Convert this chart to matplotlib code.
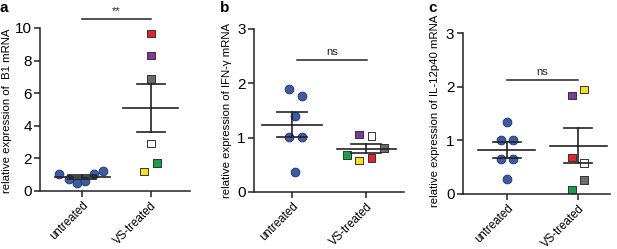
import numpy as np
import matplotlib.pyplot as plt

plt.rcParams['font.family'] = ['Liberation Sans', 'DejaVu Sans']

groups = ['untreated', 'VS-treated']
sq_colors = ['#e8202a', '#7d3c98', '#6b6b6b', '#ffffff', '#17a04a', '#f7e21a']  # red, purple, grey, white, green, yellow

# panel a: B1
a_untr = [1.05, 0.74, 0.47, 0.61, 1.05, 1.23]
a_untr_dx = [-0.34, -0.19, -0.07, 0.05, 0.18, 0.31]
a_vs = [9.65, 8.3, 6.85, 2.9, 1.7, 1.2]
a_vs_dx = [0, 0, 0, 0, 0.09, -0.1]

# panel b: IFN-gamma
b_untr = [1.89, 1.76, 1.40, 1.01, 1.01, 0.37]
b_untr_dx = [-0.04, 0.13, 0.04, -0.04, 0.13, 0.04]
b_vs = [0.63, 1.06, 0.81, 1.03, 0.68, 0.58]
b_vs_dx = [0.07, -0.1, 0.24, 0.07, -0.26, -0.1]

# panel c: IL-12p40
c_untr = [1.34, 1.01, 1.01, 0.66, 0.66, 0.28]
c_untr_dx = [0, -0.09, 0.08, -0.09, 0.08, 0]
c_vs = [0.68, 1.84, 0.26, 0.58, 0.08, 1.95]
c_vs_dx = [-0.09, -0.09, 0.08, 0.08, -0.09, 0.08]

panels = [
    dict(letter='a', ylabel='relative expression of  B1 mRNA', untr=a_untr, udx=a_untr_dx,
         vs=a_vs, vdx=a_vs_dx, ylim=10, yticks=[0, 2, 4, 6, 8, 10], sig='**',
         sig_y=10.57, sig_x=(0, 1), rect=[0.065, 0.233, 0.243, 0.655], xlim=(-0.61, 1.57),
         lx=7, letter_x=0),
    dict(letter='b', ylabel='relative expression of IFN-γ mRNA', untr=b_untr, udx=b_untr_dx,
         vs=b_vs, vdx=b_vs_dx, ylim=3, yticks=[0, 1, 2, 3], sig='ns',
         sig_y=2.43, sig_x=(0.06, 1.01), rect=[0.412, 0.229, 0.243, 0.655], xlim=(-0.51, 1.51),
         lx=227, letter_x=220),
    dict(letter='c', ylabel='relative expression of IL-12p40 mRNA', untr=c_untr, udx=c_untr_dx,
         vs=c_vs, vdx=c_vs_dx, ylim=3, yticks=[0, 1, 2, 3], sig='ns',
         sig_y=2.13, sig_x=(0, 1), rect=[0.750, 0.221, 0.239, 0.646], xlim=(-0.62, 1.45),
         lx=435, letter_x=428),
]

fig = plt.figure(figsize=(6.17, 2.49), dpi=100)

for p in panels:
    ax = fig.add_axes(p['rect'])
    ax.scatter(np.array(p['udx']), p['untr'], s=40, marker='o', facecolor='#3b5ba5',
               edgecolor='#1f2f6b', linewidth=0.6, zorder=2, clip_on=False)
    ax.scatter(1 + np.array(p['vdx']), p['vs'], s=30, marker='s', facecolor=sq_colors,
               edgecolor='#333333', linewidth=0.7, zorder=2, clip_on=False)
    for i, vals in enumerate([p['untr'], p['vs']]):
        m = np.mean(vals)
        sem = np.std(vals, ddof=1) / np.sqrt(len(vals))
        ax.plot([i - 0.4, i + 0.4], [m, m], color='#222222', lw=1.2, zorder=3)
        ax.plot([i, i], [m - sem, m + sem], color='#222222', lw=1.2, zorder=3)
        for y in (m - sem, m + sem):
            ax.plot([i - 0.2, i + 0.2], [y, y], color='#222222', lw=1.2, zorder=3)
    ax.plot(p['sig_x'], [p['sig_y'], p['sig_y']], color='#222222', lw=1.1, clip_on=False)
    ax.text(np.mean(p['sig_x']), p['sig_y'] + p['ylim'] * 0.015, p['sig'], ha='center',
            va='bottom', fontsize=8, color='#222222')
    ax.set_xlim(*p['xlim'])
    ax.set_ylim(0, p['ylim'])
    ax.set_yticks(p['yticks'])
    ax.set_xticks([0, 1])
    ax.set_xticklabels(groups, rotation=45, ha='right', rotation_mode='anchor', fontsize=8.3)
    ax.tick_params(axis='y', labelsize=11, length=4, width=1.1, color='#222222', pad=2)
    ax.tick_params(axis='x', length=4, width=1.1, color='#222222', pad=2)
    for s in ('top', 'right'):
        ax.spines[s].set_visible(False)
    for s in ('left', 'bottom'):
        ax.spines[s].set_linewidth(1.1)
        ax.spines[s].set_color('#222222')
    fig.text(p['lx'] / 617, 0.555, p['ylabel'], rotation=90, ha='center', va='center', fontsize=8.2)
    fig.text(p['letter_x'] / 617, 1 - 12.5 / 249, p['letter'], fontsize=11, fontweight='bold',
             ha='left', va='baseline')

fig.savefig('out.png', dpi=100)
